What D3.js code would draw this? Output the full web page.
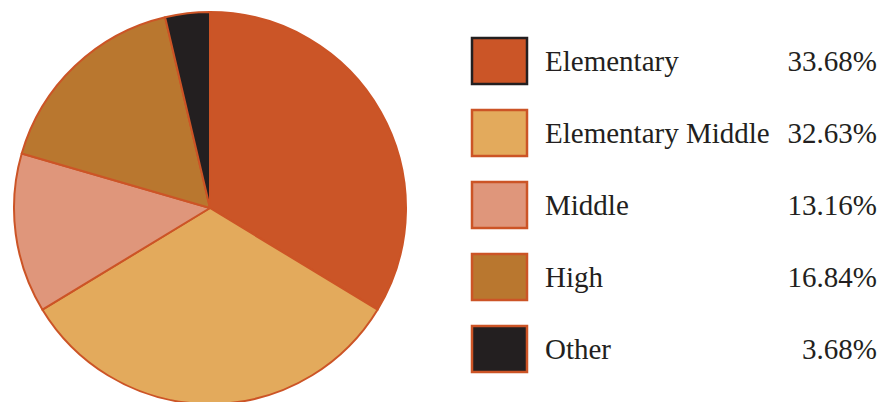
<!DOCTYPE html>
<html>
<head>
<meta charset="utf-8">
<script src="https://cdn.jsdelivr.net/npm/d3@7/dist/d3.min.js"></script>
<style>
  html, body { margin: 0; padding: 0; background: #fff; }
  svg { display: block; }
</style>
</head>
<body>
<svg id="chart" width="880" height="402"></svg>
<script>
// School level shares
const categories = ["Elementary", "Elementary Middle", "Middle", "High", "Other"];
const values = [33.68, 32.63, 13.16, 16.84, 3.68];
const valueLabels = ["33.68%", "32.63%", "13.16%", "16.84%", "3.68%"];
const colors = ["#cb5527", "#e3aa5c", "#df967b", "#b9772f", "#231f20"];
const strokeColor = "#cc5426";
const fontStack = "'Liberation Serif', 'Times New Roman', Times, serif";

const svg = d3.select("#chart");
const cx = 210, cy = 208, radius = 196;

const pie = d3.pie().sort(null).value(d => d)(values);
const arc = d3.arc().innerRadius(0).outerRadius(radius);

const g = svg.append("g").attr("transform", `translate(${cx},${cy})`);
g.selectAll("path")
  .data(pie)
  .join("path")
  .attr("d", arc)
  .attr("fill", (d, i) => colors[i])
  .attr("stroke", strokeColor)
  .attr("stroke-width", 2)
  .attr("stroke-linejoin", "round");

// Legend
const rowY = d3.scalePoint().domain(categories).range([61, 349]);
const legend = svg.append("g")
  .attr("font-family", fontStack)
  .attr("fill", "#231f20");
const rows = legend.selectAll("g")
  .data(categories)
  .join("g")
  .attr("transform", d => `translate(0,${rowY(d)})`);

rows.append("rect")
  .attr("x", 472)
  .attr("y", -23)
  .attr("width", 55)
  .attr("height", 46)
  .attr("fill", (d, i) => colors[i])
  .attr("stroke", (d, i) => i === 0 ? "#231f20" : strokeColor)
  .attr("stroke-width", 2.5);

rows.append("text")
  .attr("x", 545)
  .attr("y", 10)
  .attr("font-size", 29)
  .text(d => d);

rows.append("text")
  .attr("x", 877)
  .attr("y", 10)
  .attr("font-size", 29)
  .attr("text-anchor", "end")
  .text((d, i) => valueLabels[i]);
</script>
</body>
</html>
